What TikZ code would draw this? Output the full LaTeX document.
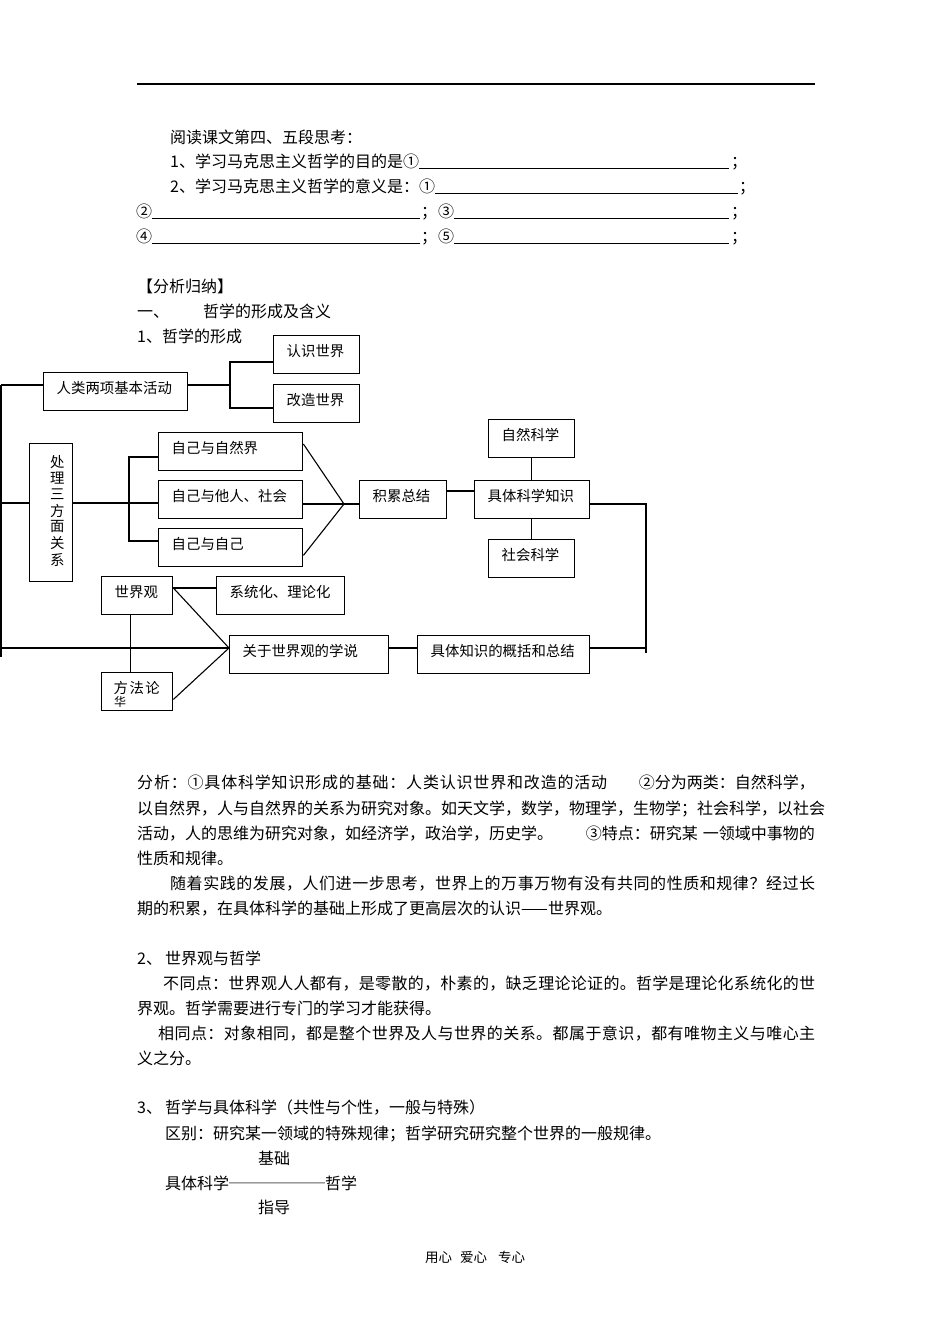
\documentclass[tikz,border=0pt]{standalone}
\usepackage{fontspec}
\setmainfont{Noto Sans CJK SC}
\newcommand\bxf{\fontsize{14.4pt}{15.5pt}\selectfont}
\newcommand\bdf{\fontsize{16pt}{20pt}\selectfont}
\newcommand\ftf{\fontsize{13.5pt}{15pt}\selectfont}
\def\SPend{SPENDMARK}
\def\SPx#1{\ifx#1\SPend\else#1\hskip0pt plus1fil\relax\expandafter\SPx\fi}
\newcommand\spread[2]{\hbox to #1{\SPx#2\SPend\unskip}}
\begin{document}
\begin{tikzpicture}[x=1pt,y=-1pt,
  box/.style={draw, line width=1.4pt, rectangle, anchor=north west, inner xsep=13pt, inner ysep=0pt,
    text height=20.5pt, text depth=17.5pt, font=\bxf, align=left},
  ln/.style={line width=1.1pt},
  ul/.style={line width=1pt},
  txt/.style={anchor=base west, inner sep=0pt, font=\bdf},
  txte/.style={anchor=base east, inner sep=0pt, font=\bdf},
]
\useasboundingbox (0,0) rectangle (950,1344);

% header rule
\coordinate (hr1) at (137,84);
\coordinate (hr2) at (815,84);
\draw[line width=1.2pt] (hr1) -- (hr2);

% questions
\coordinate (X420) at (420,0);
\coordinate (X729) at (729,0);
\coordinate (X738) at (738,0);
\node[txt] (t1) at (170,143) {阅读课文第四、五段思考：};
\node[txt] (q1) at (170,167) {1、学习马克思主义哲学的目的是①};
\draw[ul] (q1.south east) -- (q1.south east -| X729);
\node[txt] (q1s) at (731,167) {；};
\node[txt] (q2) at (170,192) {2、学习马克思主义哲学的意义是：①};
\draw[ul] (q2.south east) -- (q2.south east -| X738);
\node[txt] (q2s) at (739,192) {；};
\node[txt] (c2) at (136,217) {②};
\draw[ul] (c2.south east) -- (c2.south east -| X420);
\node[txt] (c2s) at (421,217) {；};
\node[txt] (c3) at (438,217) {③};
\draw[ul] (c3.south east) -- (c3.south east -| X729);
\node[txt] (c3s) at (731,217) {；};
\node[txt] (c4) at (136,242) {④};
\draw[ul] (c4.south east) -- (c4.south east -| X420);
\node[txt] (c4s) at (421,242) {；};
\node[txt] (c5) at (438,242) {⑤};
\draw[ul] (c5.south east) -- (c5.south east -| X729);
\node[txt] (c5s) at (731,242) {；};

% headings
\node[txt] (h1) at (137,292) {【分析归纳】};
\node[txt] (h2a) at (137,317) {一、};
\node[txt] (h2b) at (203,317) {哲学的形成及含义};
\node[txt] (h3) at (137,342) {1、哲学的形成};

% diagram boxes
\node[box,text width=60pt] (rs) at (273,335) {认识世界};
\node[box,text width=60pt] (gz) at (273,384) {改造世界};
\node[box,text width=118pt] (rl) at (43,372) {人类两项基本活动};
\node[draw, line width=1.4pt, anchor=north west, minimum width=43pt, minimum height=138pt,
      inner sep=0pt, font=\bxf] (cl) at (29,443)
      {\hspace{12pt}\begin{tabular}{@{}c@{}}处\\理\\三\\方\\面\\关\\系\end{tabular}};
\node[box,text width=118pt] (zr) at (158,432) {自己与自然界};
\node[box,text width=118pt] (zt) at (158,480) {自己与他人、社会};
\node[box,text width=118pt] (zz) at (158,528) {自己与自己};
\node[box,text width=61pt] (jl) at (359,480) {积累总结};
\node[box,text width=89pt] (jt) at (474,480) {具体科学知识};
\node[box,text width=60pt] (zk) at (488,419) {自然科学};
\node[box,text width=60pt] (sk) at (488,539) {社会科学};
\node[box,text width=45pt] (sjg) at (101,576) {世界观};
\node[box,text width=102pt] (xt) at (216,576) {系统化、理论化};
\node[box,text width=133pt] (gy) at (229,635) {关于世界观的学说};
\node[box,text width=146pt] (jz) at (417,635) {具体知识的概括和总结};
\node[box,text width=45pt, inner xsep=12pt, text width=47pt] (ff) at (101,672) {\mbox{方\hspace{1.5pt}法\hspace{1.5pt}论}};
\node[anchor=base west, inner sep=0pt, font=\fontsize{12pt}{13pt}\selectfont] (hua) at (114,706) {华};

% connectors
\coordinate (L1) at (1,385);
\coordinate (L2) at (1,657);
\draw[ln] (L1) -- (L2);
\draw[ln] (L1) -- (rl.west |- L1);
\coordinate (B1) at (230,385);
\coordinate (B1t) at (230,362);
\coordinate (B1b) at (230,408);
\draw[ln] (rl.east |- B1) -- (B1);
\draw[ln] (rs.west |- B1t) -- (B1t) -- (B1b) -- (gz.west |- B1b);

\coordinate (M) at (1,503);
\draw[ln] (M) -- (cl.west |- M);
\draw[ln] (cl.east |- M) -- (zt.west |- M);
\coordinate (B2t) at (129,457);
\coordinate (B2b) at (129,541);
\draw[ln] (zr.west |- B2t) -- (B2t) -- (B2b) -- (zz.west |- B2b);

\coordinate (A1) at (344,504);
\draw[ln] ([yshift=-12pt]zr.north east) -- (A1) -- ([yshift=12pt]zz.south east);
\draw[ln] (zt.east |- A1) -- (A1) -- (jl.west |- A1);
\coordinate (J1) at (460,491);
\draw[ln] (jl.east |- J1) -- (jt.west |- J1);
\draw[ln] (zk.south) -- (zk.south |- jt.north);
\draw[ln] (sk.north |- jt.south) -- (sk.north);

\coordinate (R1) at (646,504);
\coordinate (R2) at (646,653);
\coordinate (R3) at (646,648);
\draw[ln] (jt.east |- R1) -- (R1) -- (R2);
\draw[ln] (jz.east |- R3) -- (R3);

\coordinate (A2) at (229,648);
\draw[ln] (gy.east |- A2) -- (jz.west |- A2);
\draw[ln] (L1 |- A2) -- (A2);
\coordinate (S1) at ([yshift=-12pt]sjg.north east);
\draw[ln] (S1) -- (A2) -- ([yshift=12pt]ff.south east);
\draw[ln] (S1) -- (xt.west |- S1);
\draw[ln] ([xshift=-7pt]sjg.south) -- ([xshift=-7pt]sjg.south |- ff.north);

% analysis
\node[txt] (a1) at (137,788) {\spread{470pt}{分析：①具体科学知识形成的基础：人类认识世界和改造的活动}};
\node[txte] (a1b) at (815,788) {②分为两类：自然科学，};
\node[txt] (a2) at (137,814) {\spread{678pt}{以自然界，人与自然界的关系为研究对象。如天文学，数学，物理学，生物学；社会科学，以社会}};
\node[txt] (a3) at (137,839) {活动，人的思维为研究对象，如经济学，政治学，历史学。};
\node[txte] (a3b) at (815,839) {③特点：研究某\hspace{5pt}一领域中事物的};
\node[txt] (a4) at (137,864) {性质和规律。};
\node[txt] (a5) at (170,889) {\spread{645pt}{随着实践的发展，人们进一步思考，世界上的万事万物有没有共同的性质和规律？经过长}};
\node[txt] (a6) at (137,914) {期的积累，在具体科学的基础上形成了更高层次的认识——世界观。};

% section 2
\node[txt] (b0a) at (137,964) {2、};
\node[txt] (b0b) at (165,964) {世界观与哲学};
\node[txt] (b1) at (163,989) {\spread{652pt}{不同点：世界观人人都有，是零散的，朴素的，缺乏理论论证的。哲学是理论化系统化的世}};
\node[txt] (b2) at (137,1014) {界观。哲学需要进行专门的学习才能获得。};
\node[txt] (b3) at (158,1039) {\spread{657pt}{相同点：对象相同，都是整个世界及人与世界的关系。都属于意识，都有唯物主义与唯心主}};
\node[txt] (b4) at (137,1064) {义之分。};

% section 3
\node[txt] (e0a) at (137,1113) {3、};
\node[txt] (e0b) at (165,1113) {哲学与具体科学（共性与个性，一般与特殊）};
\node[txt] (e1) at (165,1139) {区别：研究某一领域的特殊规律；哲学研究研究整个世界的一般规律。};
\node[txt] (e2) at (258,1164) {基础};
\node[txt] (e3) at (165,1189) {具体科学──────哲学};
\node[txt] (e4) at (258,1213) {指导};

% footer
\node[anchor=base west, inner sep=0pt, font=\ftf] (ft) at (425,1262) {用心\hspace{8pt}爱心\hspace{11pt}专心};
\end{tikzpicture}
\end{document}
